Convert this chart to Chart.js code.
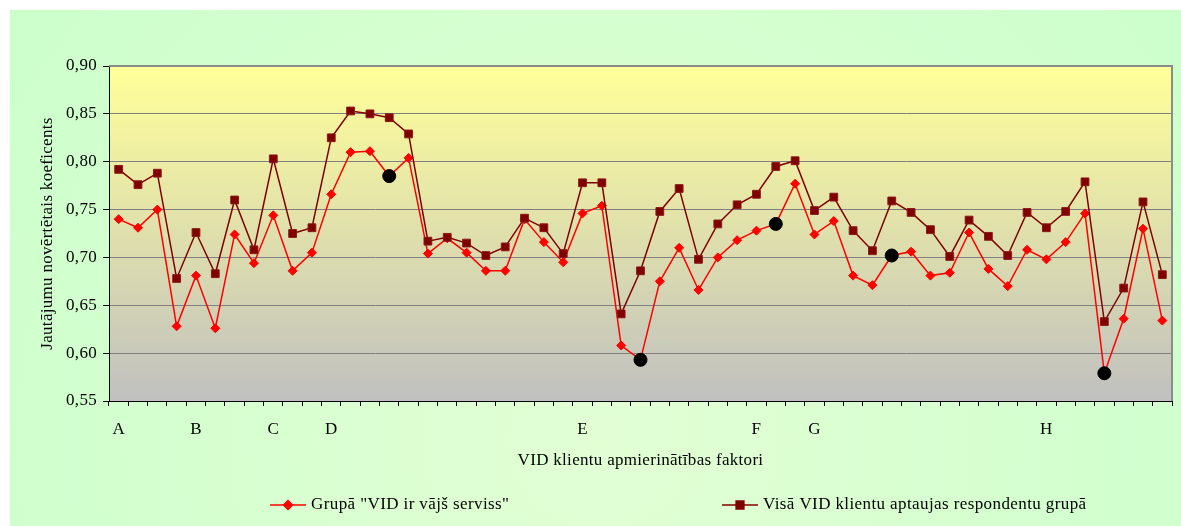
<!DOCTYPE html>
<html>
<head>
<meta charset="utf-8">
<title>VID klientu apmierinātības faktori</title>
<script src="https://cdn.jsdelivr.net/npm/chart.js@4.4.1/dist/chart.umd.min.js"></script>
<style>
    html, body { margin: 0; padding: 0; background: #ffffff; }
    canvas { display: block; }
</style>
</head>
<body>
<canvas id="factorsChart" width="1181" height="526"></canvas>
<script>
// Factor groups (only the first factor of each group carries a letter)
const categories = [
    'A', '', '', '', 'B', '', '', '', 'C', '', '', 'D',
    '', '', '', '', '', '', '', '', '', '', '', '',
    'E', '', '', '', '', '', '', '', '', 'F', '', '', 'G',
    '', '', '', '', '', '', '', '', '', '', '', 'H',
    '', '', '', '', '', ''
];

// Grupā "VID ir vājš serviss"
const weakServiceGroup = [
    0.740, 0.731, 0.750, 0.628, 0.681, 0.626, 0.724, 0.694, 0.744, 0.686,
    0.705, 0.766, 0.810, 0.811, 0.785, 0.804, 0.704, 0.720, 0.705, 0.686,
    0.686, 0.740, 0.716, 0.695, 0.746, 0.754, 0.608, 0.593, 0.675, 0.710,
    0.666, 0.700, 0.718, 0.728, 0.735, 0.777, 0.724, 0.738, 0.681, 0.671,
    0.702, 0.706, 0.681, 0.684, 0.726, 0.688, 0.670, 0.708, 0.698, 0.716,
    0.746, 0.579, 0.636, 0.730, 0.634
];

// Visā VID klientu aptaujas respondentu grupā
const allRespondents = [
    0.792, 0.776, 0.788, 0.678, 0.726, 0.683, 0.760, 0.708, 0.803, 0.725,
    0.731, 0.825, 0.853, 0.850, 0.846, 0.829, 0.717, 0.721, 0.715, 0.702,
    0.711, 0.741, 0.731, 0.704, 0.778, 0.778, 0.641, 0.686, 0.748, 0.772,
    0.698, 0.735, 0.755, 0.766, 0.795, 0.801, 0.749, 0.763, 0.728, 0.707,
    0.759, 0.747, 0.729, 0.701, 0.739, 0.722, 0.702, 0.747, 0.731, 0.748,
    0.779, 0.633, 0.668, 0.758, 0.682
];

// Factors marked with a black dot on the weak-service line
const markedFactors = [14, 27, 34, 40, 51];

// Value axis
const yMin = 0.55;
const yMax = 0.90;
const yStep = 0.05;

const SERIF = "'Liberation Serif', 'Times New Roman', serif";
const FONT_SIZE = 17;
Chart.defaults.font.family = SERIF;
Chart.defaults.font.size = FONT_SIZE;
Chart.defaults.color = '#000000';

const isMarked = (i) => markedFactors.includes(i);

// The original text is set a little wider than plain Times
const spacingPlugin = {
    id: 'letterSpacing',
    beforeUpdate(chart) { chart.ctx.letterSpacing = '0.3px'; },
    beforeDraw(chart) { chart.ctx.letterSpacing = '0.3px'; }
};

// Backgrounds: green page panel and yellow-grey plot area
const backgroundPlugin = {
    id: 'panelBackground',
    beforeDraw(chart) {
        const { ctx, width, height, chartArea } = chart;
        ctx.save();
        const g = ctx.createRadialGradient(600, 440, 0, 600, 440, 720);
        g.addColorStop(0, '#e2ffd4');
        g.addColorStop(1, '#ccffcc');
        ctx.fillStyle = g;
        ctx.fillRect(10, 10, width - 10, height - 10);

        const pg = ctx.createLinearGradient(0, chartArea.top, 0, chartArea.bottom);
        pg.addColorStop(0, '#ffff99');
        pg.addColorStop(1, '#c0c0c0');
        ctx.fillStyle = pg;
        ctx.fillRect(chartArea.left, chartArea.top, chartArea.right - chartArea.left, chartArea.bottom - chartArea.top);
        ctx.restore();
    },
    beforeDatasetsDraw(chart) {
        const { ctx, chartArea } = chart;
        ctx.save();
        ctx.strokeStyle = '#8c8c8c';
        ctx.lineWidth = 2;
        ctx.beginPath();
        ctx.moveTo(chartArea.left, chartArea.top);
        ctx.lineTo(chartArea.right, chartArea.top);
        ctx.lineTo(chartArea.right, chartArea.bottom);
        ctx.stroke();
        ctx.restore();
    }
};

// Legend drawn as "line + marker + text", like the original spreadsheet legend
const legendX = [270, 722];
const lineLegendPlugin = {
    id: 'lineLegend',
    afterDraw(chart) {
        const ctx = chart.ctx;
        const y = 505;
        ctx.save();
        chart.data.datasets.forEach((ds, i) => {
            const x0 = legendX[i];
            ctx.strokeStyle = ds.borderColor;
            ctx.lineWidth = 1.5;
            ctx.beginPath();
            ctx.moveTo(x0, y);
            ctx.lineTo(x0 + 36, y);
            ctx.stroke();

            ctx.fillStyle = ds.borderColor;
            ctx.strokeStyle = ds.borderColor;
            Chart.helpers.drawPoint(ctx, {
                pointStyle: ds.legendStyle,
                radius: ds.legendRadius,
                rotation: 0,
                borderWidth: 1
            }, x0 + 18, y);

            ctx.fillStyle = '#000000';
            ctx.font = FONT_SIZE + 'px ' + SERIF;
            ctx.letterSpacing = '0.4px';
            ctx.textAlign = 'left';
            ctx.textBaseline = 'middle';
            ctx.fillText(ds.label, x0 + 41, y);
        });
        ctx.restore();
    }
};

const ctx = document.getElementById('factorsChart');

new Chart(ctx, {
    type: 'line',
    data: {
        labels: categories,
        datasets: [{
            label: 'Grupā "VID ir vājš serviss"',
            data: weakServiceGroup,
            borderColor: '#ff0000',
            borderWidth: 1.5,
            tension: 0,
            order: 1,
            legendStyle: 'rectRot',
            legendRadius: 4.5,
            pointStyle: weakServiceGroup.map((v, i) => isMarked(i) ? 'circle' : 'rectRot'),
            pointRadius: weakServiceGroup.map((v, i) => isMarked(i) ? 6.5 : 4.5),
            pointBackgroundColor: weakServiceGroup.map((v, i) => isMarked(i) ? '#000000' : '#ff0000'),
            pointBorderColor: weakServiceGroup.map((v, i) => isMarked(i) ? '#000000' : '#ff0000'),
            pointBorderWidth: 1
        }, {
            label: 'Visā VID klientu aptaujas respondentu grupā',
            data: allRespondents,
            borderColor: '#800000',
            borderWidth: 1.5,
            tension: 0,
            order: 0,
            legendStyle: 'rect',
            legendRadius: 5.5,
            pointStyle: 'rect',
            pointRadius: 5.5,
            pointBackgroundColor: '#800000',
            pointBorderColor: '#8a1a1a',
            pointBorderWidth: 1
        }]
    },
    options: {
        responsive: false,
        devicePixelRatio: 1,
        animation: false,
        layout: {
            padding: { left: 10, top: 66, right: 9, bottom: 45 }
        },
        plugins: {
            legend: { display: false },
            tooltip: { enabled: false },
            title: { display: false }
        },
        scales: {
            x: {
                offset: true,
                grid: {
                    offset: true,
                    drawOnChartArea: false,
                    tickLength: 5,
                    tickColor: '#000000'
                },
                border: { color: '#000000', width: 1 },
                ticks: {
                    autoSkip: false,
                    maxRotation: 0,
                    padding: 13
                },
                title: {
                    display: true,
                    text: 'VID klientu apmierinātības faktori',
                    padding: { top: 0, bottom: 10 }
                },
                afterFit(scale) { scale.height = 80; }
            },
            y: {
                min: yMin,
                max: yMax,
                grid: {
                    color: '#808080',
                    tickLength: 6,
                    tickColor: '#000000'
                },
                border: { color: '#000000', width: 1 },
                ticks: {
                    stepSize: yStep,
                    padding: 6,
                    callback: (value) => value.toFixed(2).replace('.', ',')
                },
                title: {
                    display: true,
                    text: 'Jautājumu novērtētais koeficents',
                    padding: { top: 27, bottom: 0 }
                },
                afterFit(scale) { scale.width = 99; }
            }
        }
    },
    plugins: [spacingPlugin, backgroundPlugin, lineLegendPlugin]
});
</script>
</body>
</html>
